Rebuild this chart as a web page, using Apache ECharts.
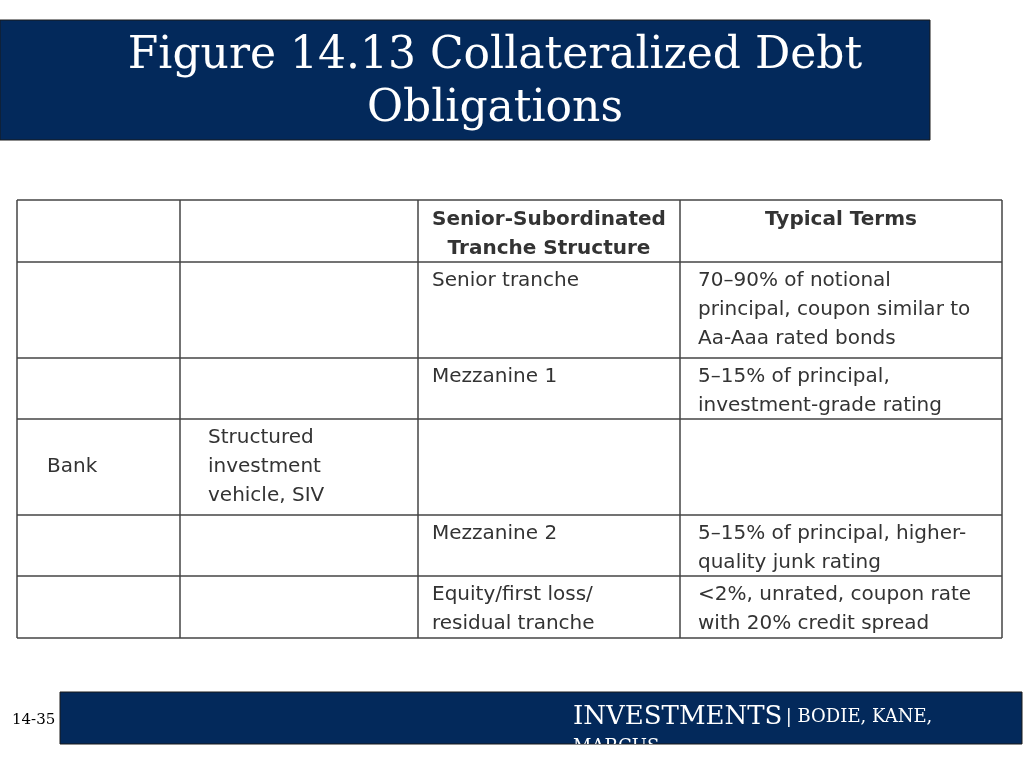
<!DOCTYPE html>
<html><head><meta charset="utf-8">
<script src="https://cdn.jsdelivr.net/npm/echarts@6/dist/echarts.min.js"></script>
<style>html,body{margin:0;padding:0;background:#fff}#c{width:1024px;height:768px}</style>
</head><body><div id="c"></div>
<script>
const titleLines = ["Figure 14.13 Collateralized Debt", "Obligations"];
const colEdges = [17, 180, 418, 680, 1002];
const rowEdges = [200, 262, 358, 419, 515, 576, 638];
const headerCells = ["", "", "Senior-Subordinated\nTranche Structure", "Typical Terms"];
const col1 = ["", "", "", "Bank", "", ""];
const col2 = ["", "", "", "Structured\ninvestment\nvehicle, SIV", "", ""];
const col3 = ["Senior tranche", "Mezzanine 1", "", "Mezzanine 2", "Equity/first loss/\nresidual tranche"];
const col4 = ["70–90% of notional\nprincipal, coupon similar to\nAa-Aaa rated bonds", "5–15% of principal,\ninvestment-grade rating", "", "5–15% of principal, higher-\nquality junk rating", "<2%, unrated, coupon rate\nwith 20% credit spread"];
const slideNo = "14-35";

const navy = '#03295b';
const g = [];
g.push({type:'rect', shape:{x:0,y:20,width:930,height:120}, style:{fill:navy, stroke:'#1a1a1a', lineWidth:1}});
titleLines.forEach((t,i)=>g.push({type:'text', x:495, y:57+i*53, style:{text:t, fill:'#fff', font:'44px "DejaVu Serif"', align:'center', verticalAlign:'middle'}}));
// grid lines
rowEdges.forEach(y=>g.push({type:'line', shape:{x1:colEdges[0],y1:y,x2:colEdges[4],y2:y}, style:{stroke:'#444', lineWidth:1.5}}));
colEdges.forEach(x=>g.push({type:'line', shape:{x1:x,y1:rowEdges[0],x2:x,y2:rowEdges[6]}, style:{stroke:'#444', lineWidth:1.5}}));
const font = '20px "DejaVu Sans"';
// header
[2,3].forEach(c=>g.push({type:'text', x:(colEdges[c]+colEdges[c+1])/2, y:rowEdges[0]+5, style:{text:headerCells[c], fill:'#333', font:'bold 20px "DejaVu Sans"', align:'center', verticalAlign:'top', lineHeight:29}}));
// body rows: rows 1..5 of table map to col3/col4 indices 0..4 (with row 3 being the bank row)
const bodyRows = [1,2,3,4,5];
bodyRows.forEach((r,i)=>{
  const y = rowEdges[r]+4;
  if (col3[i]) g.push({type:'text', x:colEdges[2]+14, y:y, style:{text:col3[i], fill:'#333', font, verticalAlign:'top', lineHeight:29}});
  if (col4[i]) g.push({type:'text', x:colEdges[3]+18, y:y, style:{text:col4[i], fill:'#333', font, verticalAlign:'top', lineHeight:29}});
});
g.push({type:'text', x:colEdges[0]+30, y:(rowEdges[3]+rowEdges[4])/2, style:{text:col1[3], fill:'#333', font, verticalAlign:'middle'}});
g.push({type:'text', x:colEdges[1]+28, y:rowEdges[3]+4, style:{text:col2[3], fill:'#333', font, verticalAlign:'top', lineHeight:29}});
// footer
g.push({type:'rect', shape:{x:60,y:692,width:962,height:52}, style:{fill:navy, stroke:'#1a1a1a', lineWidth:1}});
g.push({type:'group', x:0, y:0, clipPath:{type:'rect', shape:{x:60,y:692,width:962,height:52}}, children:[
  {type:'text', x:573, y:702, style:{text:'{a|INVESTMENTS} {b|| BODIE, KANE,}\n{b|MARCUS}', fill:'#fff', verticalAlign:'top', lineHeight:30,
    rich:{a:{font:'26px "DejaVu Serif"', fill:'#fff'}, b:{font:'18px "DejaVu Serif"', fill:'#fff'}}}}
]});
g.push({type:'text', x:12, y:720, style:{text:slideNo, fill:'#000', font:'15px "DejaVu Serif"', verticalAlign:'middle'}});

const chart = echarts.init(document.getElementById('c'));
chart.setOption({animation:false, graphic:{elements:g}});
</script></body></html>
